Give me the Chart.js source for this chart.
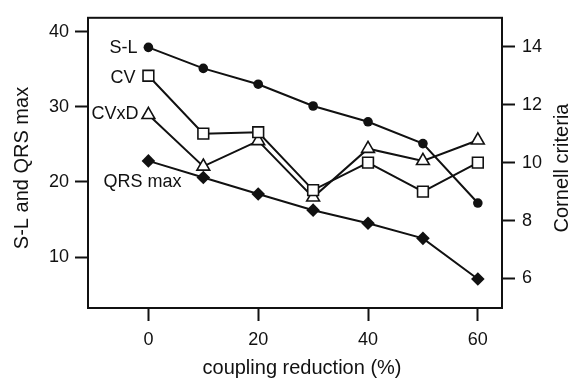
<!DOCTYPE html>
<html>
<head>
<meta charset="utf-8">
<script src="https://cdn.jsdelivr.net/npm/chart.js@4"></script>
<style>
  body { margin: 0; background: #fff; }
  #wrap { width: 581px; height: 380px; }
</style>
</head>
<body>
<div id="wrap"><canvas id="couplingChart" width="581" height="380"></canvas></div>
<script>
const reduction = [0, 10, 20, 30, 40, 50, 60];
const slValues = [37.9, 35.1, 33.0, 30.1, 28.0, 25.1, 17.2];
const qrsMax = [22.8, 20.6, 18.4, 16.25, 14.5, 12.5, 7.1];
const cvValues = [13.0, 11.0, 11.05, 9.05, 10.0, 9.0, 10.0];
const cvxdValues = [11.65, 9.87, 10.75, 8.8, 10.48, 10.06, 10.77];

const seriesNames = ["S-L", "QRS max", "CV", "CVxD"];
const xTicks = [0, 20, 40, 60];
const leftTicks = [10, 20, 30, 40];
const rightTicks = [6, 8, 10, 12, 14];

const xTitle = "coupling reduction (%)";
const leftTitle = "S-L and QRS max";
const rightTitle = "Cornell criteria";

const ink = "#111";
const font = "'Liberation Sans', Arial, Helvetica, sans-serif";

Chart.defaults.font.family = font;
Chart.defaults.color = ink;

function pairs(values) {
    return reduction.map((x, i) => ({x: x, y: values[i]}));
}

function fixTicks(list) {
    return function (scale) {
        scale.ticks = list.map(v => ({value: v}));
    };
}

// labels next to the first point of each series, plus axis titles and frame
const annotate = {
    id: "annotate",
    afterDraw(chart) {
        const ctx = chart.ctx;
        const area = chart.chartArea;
        ctx.save();

        ctx.strokeStyle = ink;
        ctx.lineWidth = 2;
        ctx.strokeRect(area.left, area.top, area.right - area.left, area.bottom - area.top);

        ctx.fillStyle = ink;
        ctx.font = "18px " + font;
        const first = i => chart.getDatasetMeta(i).data[0];

        ctx.textAlign = "right";
        ctx.textBaseline = "middle";
        let p = first(0);
        ctx.fillText(seriesNames[0], p.x - 11, p.y + 1);
        p = first(2);
        ctx.fillText(seriesNames[2], p.x - 13, p.y + 2);
        p = first(3);
        ctx.fillText(seriesNames[3], p.x - 10, p.y - 1);
        p = first(1);
        ctx.textAlign = "center";
        ctx.fillText(seriesNames[1], p.x - 6, p.y + 21);

        ctx.font = "20px " + font;
        ctx.textBaseline = "alphabetic";
        ctx.textAlign = "center";
        ctx.fillText(xTitle, 302, 374);

        const midY = 168;
        ctx.save();
        ctx.translate(27.5, midY);
        ctx.rotate(-Math.PI / 2);
        ctx.fillText(leftTitle, 0, 0);
        ctx.restore();

        ctx.save();
        ctx.translate(568, midY);
        ctx.rotate(-Math.PI / 2);
        ctx.fillText(rightTitle, 0, 0);
        ctx.restore();

        ctx.restore();
    }
};

const axisGrid = {
    drawOnChartArea: false,
    drawTicks: true,
    tickLength: 13,
    tickWidth: 2,
    tickColor: ink
};

const ctx = document.getElementById("couplingChart");

new Chart(ctx, {
    type: "line",
    data: {
        datasets: [{
            label: seriesNames[0],
            data: pairs(slValues),
            yAxisID: "yLeft",
            borderColor: ink,
            borderWidth: 2,
            pointStyle: "circle",
            pointRadius: 4.8,
            pointBackgroundColor: ink,
            pointBorderColor: ink,
            pointBorderWidth: 0
        }, {
            label: seriesNames[1],
            data: pairs(qrsMax),
            yAxisID: "yLeft",
            borderColor: ink,
            borderWidth: 2,
            pointStyle: "rectRot",
            pointRadius: 6.8,
            pointBackgroundColor: ink,
            pointBorderColor: ink,
            pointBorderWidth: 0
        }, {
            label: seriesNames[2],
            data: pairs(cvValues),
            yAxisID: "yRight",
            borderColor: ink,
            borderWidth: 2,
            pointStyle: "rect",
            pointRadius: 7.6,
            pointBackgroundColor: "#fff",
            pointBorderColor: ink,
            pointBorderWidth: 1.6
        }, {
            label: seriesNames[3],
            data: pairs(cvxdValues),
            yAxisID: "yRight",
            borderColor: ink,
            borderWidth: 2,
            pointStyle: "triangle",
            pointRadius: 7.4,
            pointBackgroundColor: "#fff",
            pointBorderColor: ink,
            pointBorderWidth: 1.6
        }]
    },
    options: {
        responsive: false,
        animation: false,
        layout: {padding: {top: 13, left: 0, right: 0, bottom: 0}},
        elements: {line: {tension: 0, fill: false}},
        plugins: {
            legend: {display: false},
            tooltip: {enabled: false}
        },
        scales: {
            x: {
                type: "linear",
                position: "bottom",
                min: -11,
                max: 64.4,
                afterBuildTicks: fixTicks(xTicks),
                afterFit(scale) { scale.height = 72; },
                grid: axisGrid,
                border: {display: true, color: ink, width: 2},
                ticks: {font: {size: 18}, padding: 8, color: ink}
            },
            yLeft: {
                type: "linear",
                position: "left",
                min: 3.24,
                max: 41.83,
                afterBuildTicks: fixTicks(leftTicks),
                afterFit(scale) { scale.width = 88; },
                grid: axisGrid,
                border: {display: true, color: ink, width: 2},
                ticks: {font: {size: 18}, padding: 6, color: ink}
            },
            yRight: {
                type: "linear",
                position: "right",
                min: 4.98,
                max: 15.0,
                afterBuildTicks: fixTicks(rightTicks),
                afterFit(scale) { scale.width = 79; },
                grid: axisGrid,
                border: {display: true, color: ink, width: 2},
                ticks: {font: {size: 18}, padding: 7, color: ink}
            }
        }
    },
    plugins: [annotate]
});
</script>
</body>
</html>
